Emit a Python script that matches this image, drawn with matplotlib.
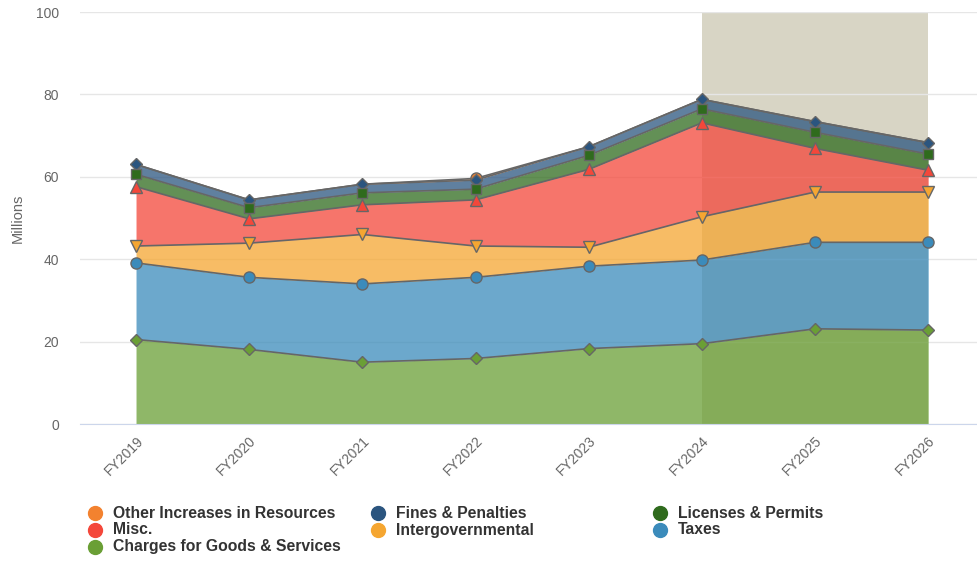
import numpy as np
import matplotlib
matplotlib.use("Agg")
import matplotlib.pyplot as plt

plt.rcParams["font.family"] = ["Liberation Sans", "DejaVu Sans"]

years = ["FY2019", "FY2020", "FY2021", "FY2022", "FY2023", "FY2024", "FY2025", "FY2026"]

# stacked from bottom to top
charges = [20.5, 18.1, 15.0, 15.9, 18.3, 19.5, 23.1, 22.8]
taxes = [18.6, 17.5, 19.0, 19.7, 20.0, 20.3, 21.0, 21.3]
intergov = [4.1, 8.3, 12.0, 7.6, 4.6, 10.5, 12.2, 12.2]
misc = [14.4, 5.9, 7.2, 11.2, 18.9, 22.8, 10.6, 5.3]
licenses = [3.0, 2.7, 2.9, 2.6, 3.4, 3.4, 3.9, 3.9]
fines = [2.4, 1.9, 2.1, 2.2, 2.1, 2.3, 2.6, 2.8]
other = [0, 0, 0, 0.4, 0, 0, 0, 0]

series = [
    ("Charges for Goods & Services", charges, "#6a9f35", "D", 6.5),
    ("Taxes", taxes, "#3b8bbb", "o", 8),
    ("Intergovernmental", intergov, "#f5a631", "v", 8.5),
    ("Misc.", misc, "#f4473a", "^", 8.5),
    ("Licenses & Permits", licenses, "#2f6b1d", "s", 7.5),
    ("Fines & Penalties", fines, "#2b557f", "D", 6.5),
    ("Other Increases in Resources", other, "#f3822f", "o", 8),
]
colors = {name: c for name, _, c, _, _ in series}

fig = plt.figure(figsize=(9.78, 5.61), dpi=100)
ax = fig.add_axes([80 / 978, 1 - 424 / 561, 898 / 978, 412 / 561])

x = np.arange(len(years))
ax.axvspan(5, 7, color="#d8d5c5", zorder=0, lw=0)

base = np.zeros(len(years))
tops = []
for name, vals, col, mk, ms in series:
    v = np.array(vals)
    top = base + v
    ax.fill_between(x, base, top, color=col, alpha=0.75, lw=0, zorder=2)
    tops.append((top, v, col, mk, ms))
    base = top
for top, v, col, mk, ms in tops:
    ax.plot(x, top, color="#666666", lw=1.2, zorder=3)
for i, (top, v, col, mk, ms) in enumerate(reversed(tops)):
    show = v > 0
    ax.plot(x[show], top[show], ls="none", marker=mk, ms=ms, mfc=col,
            mec="#666666", mew=1, zorder=4 + i)

ax.set_xlim(-0.495, 7.44)
ax.set_ylim(0, 100)
ax.set_yticks(range(0, 101, 20))
ax.set_xticks(x)
ax.set_xticklabels(years, rotation=45, ha="right", rotation_mode="anchor")
ax.tick_params(axis="both", length=0, labelsize=10, colors="#666666")
ax.tick_params(axis="y", pad=15)
ax.tick_params(axis="x", pad=7)
ax.grid(axis="y", color="#e6e6e6", lw=1, zorder=1)
ax.set_axisbelow(True)
for s in ["top", "right", "left"]:
    ax.spines[s].set_visible(False)
ax.spines["bottom"].set_color("#ccd6eb")
ax.set_ylabel("Millions", fontsize=10.5, color="#666666", labelpad=8)

# legend laid out row by row
legend_rows = [
    ["Other Increases in Resources", "Fines & Penalties", "Licenses & Permits"],
    ["Misc.", "Intergovernmental", "Taxes"],
    ["Charges for Goods & Services"],
]
col_x = [95, 378, 660]
row_y = [513, 530, 547]
for r, row in enumerate(legend_rows):
    for c, name in enumerate(row):
        fx = col_x[c] / 978
        fy = 1 - row_y[r] / 561
        fig.add_artist(plt.Line2D([fx], [fy], marker="o", ms=10, color=colors[name],
                                  mec=colors[name], transform=fig.transFigure))
        fig.text(fx + 18 / 978, fy, name, fontsize=11.3, fontweight="bold",
                 color="#333333", va="center", ha="left")

fig.savefig("out.png", dpi=100)
